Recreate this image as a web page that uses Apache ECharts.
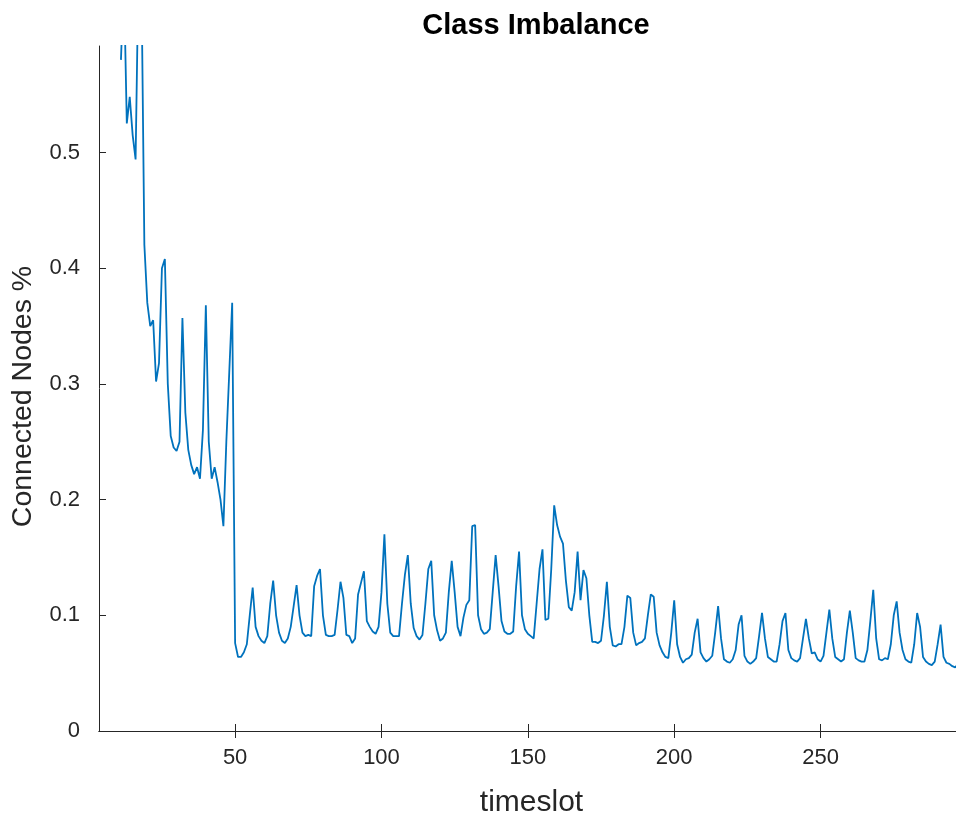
<!DOCTYPE html>
<html>
<head>
<meta charset="utf-8">
<title>Class Imbalance</title>
<script src="https://cdn.jsdelivr.net/npm/echarts@6/dist/echarts.min.js"></script>
<style>
  html, body { margin: 0; padding: 0; background: #fff; }
  #chart { width: 956px; height: 816px; }
</style>
</head>
<body>
<div id="chart"></div>
<script>
// first timeslot shown, then one value per timeslot
const firstSlot = 11;
const connectedRatio = [
  0.58, 0.65, 0.525, 0.548, 0.515, 0.494, 0.66, 0.65, 0.42, 0.37,
  0.35, 0.355, 0.302, 0.318, 0.40, 0.408, 0.30, 0.255, 0.245, 0.242,
  0.25, 0.357, 0.275, 0.243, 0.23, 0.222, 0.228, 0.218, 0.26, 0.368,
  0.25, 0.218, 0.228, 0.215, 0.20, 0.177, 0.25, 0.31, 0.37, 0.076,
  0.064, 0.064, 0.068, 0.075, 0.10, 0.124, 0.09, 0.082, 0.078, 0.076,
  0.082, 0.11, 0.130, 0.10, 0.085, 0.078, 0.076, 0.080, 0.09, 0.108,
  0.126, 0.10, 0.085, 0.082, 0.083, 0.082, 0.125, 0.134, 0.140, 0.10,
  0.083, 0.082, 0.082, 0.083, 0.105, 0.129, 0.115, 0.083, 0.082, 0.076,
  0.08, 0.118, 0.128, 0.138, 0.095, 0.090, 0.086, 0.084, 0.090, 0.12,
  0.170, 0.11, 0.085, 0.082, 0.082, 0.082, 0.11, 0.135, 0.152, 0.11,
  0.089, 0.082, 0.079, 0.083, 0.11, 0.140, 0.147, 0.10, 0.087, 0.078,
  0.080, 0.085, 0.12, 0.147, 0.12, 0.090, 0.082, 0.098, 0.109, 0.113,
  0.177, 0.178, 0.10, 0.088, 0.084, 0.085, 0.088, 0.12, 0.152, 0.125,
  0.095, 0.086, 0.084, 0.084, 0.086, 0.125, 0.155, 0.10, 0.088, 0.084,
  0.082, 0.080, 0.11, 0.14, 0.157, 0.096, 0.097, 0.14, 0.195, 0.178,
  0.168, 0.162, 0.13, 0.107, 0.104, 0.12, 0.155, 0.113, 0.139, 0.132,
  0.10, 0.077, 0.077, 0.076, 0.078, 0.10, 0.129, 0.09, 0.074, 0.073,
  0.075, 0.075, 0.09, 0.117, 0.115, 0.085, 0.074, 0.076, 0.077, 0.080,
  0.10, 0.118, 0.116, 0.085, 0.074, 0.068, 0.064, 0.063, 0.085, 0.113,
  0.075, 0.064, 0.059, 0.062, 0.063, 0.066, 0.085, 0.097, 0.068, 0.063,
  0.060, 0.062, 0.065, 0.085, 0.108, 0.08, 0.062, 0.060, 0.059, 0.062,
  0.07, 0.092, 0.100, 0.065, 0.060, 0.058, 0.060, 0.063, 0.082, 0.102,
  0.08, 0.064, 0.062, 0.060, 0.060, 0.075, 0.095, 0.102, 0.07, 0.063,
  0.061, 0.060, 0.063, 0.08, 0.097, 0.08, 0.067, 0.068, 0.062, 0.060,
  0.065, 0.085, 0.105, 0.08, 0.064, 0.062, 0.060, 0.062, 0.085, 0.104,
  0.085, 0.063, 0.061, 0.060, 0.060, 0.07, 0.095, 0.122, 0.08, 0.062,
  0.061, 0.063, 0.062, 0.075, 0.10, 0.112, 0.085, 0.070, 0.062, 0.060,
  0.059, 0.075, 0.102, 0.09, 0.064, 0.060, 0.058, 0.057, 0.060, 0.075,
  0.092, 0.064, 0.059, 0.058, 0.056, 0.055, 0.058
];
const xTicks = [50, 100, 150, 200, 250];
const yTicks = [0, 0.1, 0.2, 0.3, 0.4, 0.5];

const axisColor = '#262626';
const font = 'Liberation Sans, Arial, Helvetica, sans-serif';

const seriesData = connectedRatio.map((v, i) => [firstSlot + i, v]);

const options = {
  animation: false,
  backgroundColor: '#fff',
  title: {
    text: 'Class Imbalance',
    left: 531,
    textAlign: 'center',
    top: 6,
    textStyle: {
      color: '#000',
      fontWeight: 'bold',
      fontSize: 29,
      fontFamily: font
    }
  },
  grid: {
    left: 99,
    top: 46,
    right: -8,
    bottom: 85,
    // keep the plot box fixed, names may sit near the page edge
    outerBoundsMode: 'none',
    containLabel: false
  },
  xAxis: [
    {
      type: 'value',
      min: 3.5,
      max: 299,
      name: 'timeslot',
      nameLocation: 'middle',
      nameGap: 57,
      nameTextStyle: { color: axisColor, fontSize: 30, fontFamily: font },
      axisLine: { show: true, onZero: false, lineStyle: { color: axisColor, width: 1 } },
      axisTick: { show: true, inside: true, length: 7, customValues: xTicks, lineStyle: { color: axisColor } },
      axisLabel: { color: axisColor, fontSize: 22, fontFamily: font, margin: 16, customValues: xTicks },
      splitLine: { show: false }
    },
    {
      // top edge of the box, MATLAB style
      type: 'value',
      position: 'top',
      min: 3.5,
      max: 299,
      axisLine: { show: true, lineStyle: { color: axisColor, width: 1 } },
      axisTick: { show: true, inside: true, length: 7, customValues: xTicks, lineStyle: { color: axisColor } },
      axisLabel: { show: false },
      splitLine: { show: false }
    }
  ],
  yAxis: {
    type: 'value',
    min: 0,
    max: 0.592,
    name: 'Connected Nodes %',
    nameLocation: 'middle',
    nameGap: 61,
    nameTextStyle: { color: axisColor, fontSize: 28.5, fontFamily: font, padding: [0, 16, 0, 0] },
    axisLine: { show: true, lineStyle: { color: axisColor, width: 1 } },
    axisTick: { show: true, inside: true, length: 7, customValues: yTicks, lineStyle: { color: axisColor } },
    axisLabel: { color: axisColor, fontSize: 22, fontFamily: font, margin: 19, customValues: yTicks },
    splitLine: { show: false }
  },
  series: [
    {
      type: 'line',
      data: seriesData,
      showSymbol: false,
      clip: true,
      lineStyle: { color: '#0072BD', width: 1.8 },
      itemStyle: { color: '#0072BD' }
    }
  ]
};

const chart = echarts.init(document.getElementById('chart'));
chart.setOption(options, true);
</script>
</body>
</html>
